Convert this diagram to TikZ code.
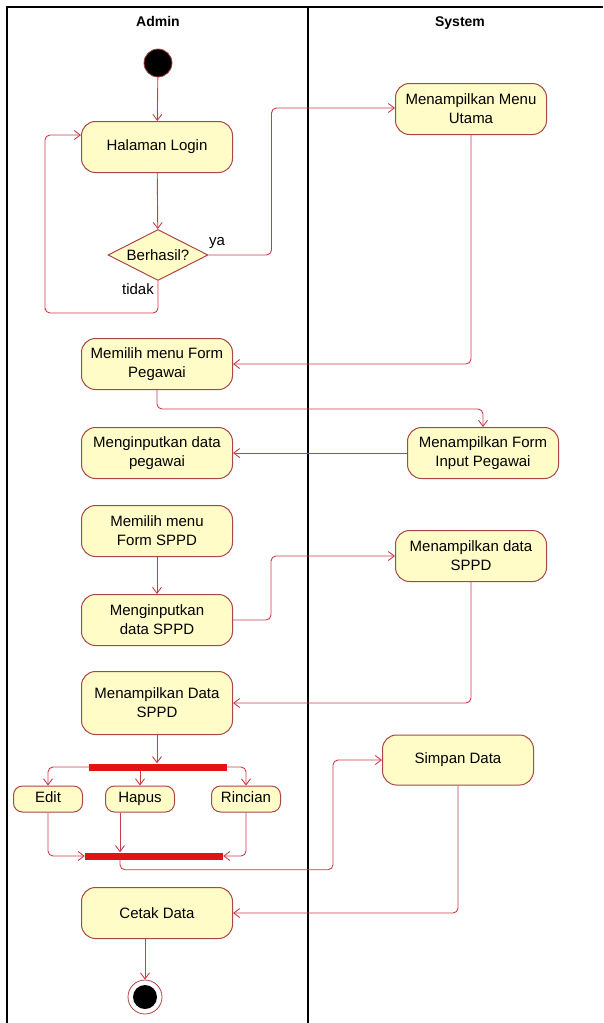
\documentclass[tikz,border=0pt]{standalone}
\usepackage{fontspec}
\setmainfont{Liberation Sans}
\usetikzlibrary{arrows.meta,shapes.geometric}

\definecolor{actfill}{RGB}{255,252,200}
\definecolor{actline}{RGB}{170,70,70}
\definecolor{flowred}{RGB}{200,60,75}
\definecolor{barred}{RGB}{225,20,20}

\tikzset{
  act/.style={draw=actline, fill=actfill, line width=1pt, rounded corners=14pt,
    minimum width=151pt, minimum height=51pt, inner sep=2pt, align=center,
    font=\fontsize{15}{19}\selectfont},
  smallact/.style={act, rounded corners=9pt, minimum width=69pt, minimum height=26pt,
    text height=11pt, text depth=3.5pt},
  decision/.style={draw=actline, fill=actfill, line width=1pt, diamond, inner sep=0pt,
    minimum width=100pt, minimum height=51pt},
  bar/.style={fill=barred, draw=none, minimum width=138pt, minimum height=7pt, inner sep=0pt},
  flow/.style={draw=flowred, line width=0.9pt, rounded corners=5pt,
    -{Straight Barb[length=6pt,width=9pt]}},
  lane/.style={draw=black, line width=1.1pt},
  lanetitle/.style={font=\fontsize{14}{16}\selectfont\bfseries, anchor=base},
  guard/.style={font=\fontsize{15}{18}\selectfont, inner sep=0pt},
}

\begin{document}
\begin{tikzpicture}[x=1pt, y=-1pt]
\useasboundingbox (0,0) rectangle (603,1023);

% swimlanes
\draw[lane] (7,1023) -- (7,7) -- (603,7);
\draw[lane] (308,7) -- (308,1023);
\node[lanetitle] (tadmin) at (158,26) {Admin};
\node[lanetitle] (tsystem) at (460,26) {System};

% start and login
\node[circle, fill=black, draw=actline, line width=0.8pt, minimum size=28pt, inner sep=0pt] (start) at (158,63) {};
\node[act] (login) at (157,147) {Halaman Login};
\node[decision, label={[font=\fontsize{15}{18}\selectfont]center:Berhasil?}] (dec) at (158,255) {};
\node[act] (menu) at (471,109) {Menampilkan Menu\\Utama};

\draw[flow] (start) -- (login);
\draw[flow] (login) -- (dec);
\draw[flow] (dec.east) -- ++(63,0) |- ([yshift=1pt]menu.west);
\draw[flow] (dec.south) -- ++(0,32) -| ++(-113,0) |- ([yshift=12pt]login.west);
\node[guard] (ya) at (217,243) {ya};
\node[guard] (tidak) at (138,289) {tidak};

% pegawai form
\node[act] (formpeg) at (157,364) {Memilih menu Form\\Pegawai};
\node[act] (forminput) at (483,453) {Menampilkan Form\\Input Pegawai};
\node[act] (inpeg) at (157,453) {Menginputkan data\\pegawai};

\draw[flow] (menu.south) |- (formpeg.east);
\draw[flow] (formpeg.south) -- ++(0,19) -| (forminput.north);
\draw[flow] (forminput.west) -- (inpeg.east);

% SPPD form
\node[act] (formsppd) at (157,531) {Memilih menu\\Form SPPD};
\node[act] (insppd) at (157,620) {Menginputkan\\data SPPD};
\node[act] (showsppd) at (471,556) {Menampilkan data\\SPPD};
\node[act, minimum height=63pt] (datasppd) at (157,703) {Menampilkan Data\\SPPD};

\draw[flow] (formsppd) -- (insppd);
\draw[flow] (insppd.east) -- ++(38,0) |- (showsppd.west);
\draw[flow] (showsppd.south) |- (datasppd.east);

% fork / join
\node[bar] (fork) at (158,767) {};
\node[smallact] (edit) at (48,799) {Edit};
\node[smallact] (hapus) at (140,799) {Hapus};
\node[smallact] (rincian) at (246,799) {Rincian};
\node[bar] (join) at (154,856) {};

\draw[flow] (datasppd.south) -- (datasppd.south |- fork.north);
\draw[flow] (fork.west) -| (edit.north);
\draw[flow] (fork.south -| hapus.north) -- (hapus.north);
\draw[flow] (fork.east) -| (rincian.north);
\draw[flow] (edit.south) |- (join.west);
\draw[flow] (rincian.south) |- (join.east);
\draw[flow] ([xshift=-20pt]hapus.south) -- ([xshift=-20pt]hapus.south |- join.north);

% save and print
\node[act, minimum height=50pt] (simpan) at (458,760) {Simpan Data};
\node[act] (cetak) at (157,913) {Cetak Data};
\node[circle, draw=actline, fill=white, line width=0.8pt, minimum size=34pt, inner sep=0pt] (end) at (145,997) {};
\node[circle, fill=black, minimum size=24pt, inner sep=0pt] (endcore) at (end.center) {};

\draw[flow] ([xshift=-34pt]join.south) -- ++(0,10) -- ++(213,0) |- (simpan.west);
\draw[flow] (simpan.south) |- (cetak.east);
\draw[flow] (cetak.south -| end.north) -- (end.north);
\end{tikzpicture}
\end{document}
